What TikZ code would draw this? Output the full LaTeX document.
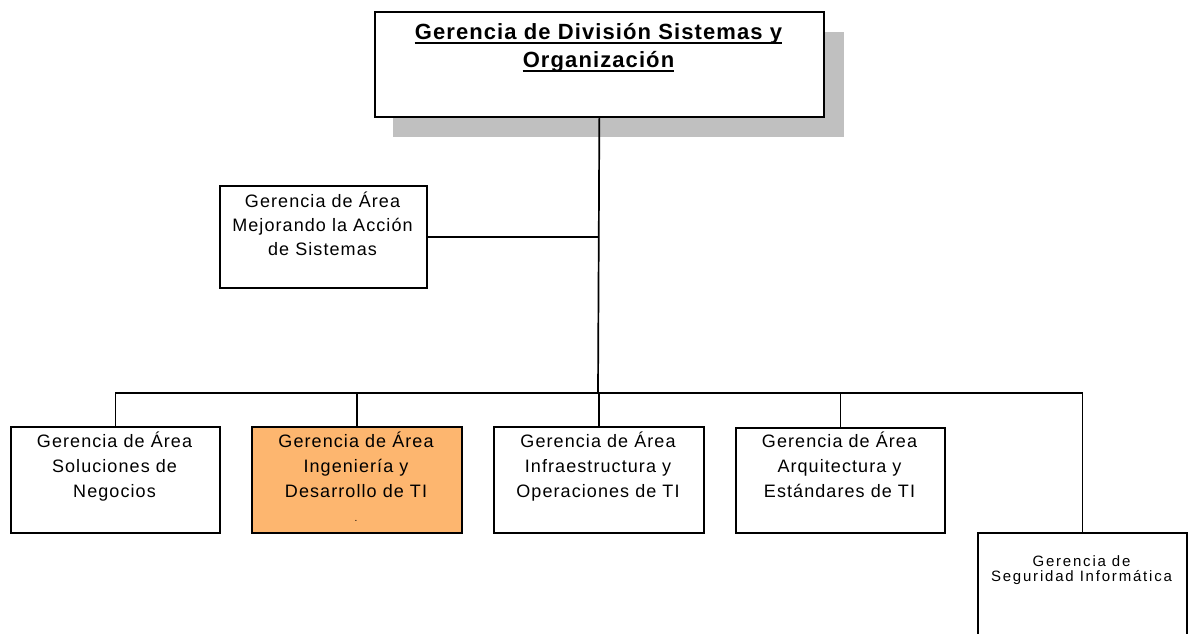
\documentclass[tikz,border=0pt]{standalone}
\usepackage{fontspec}
\setmainfont{Liberation Sans}
\newfontfamily\bxfont[LetterSpace=6]{Liberation Sans}
\newfontfamily\sxfont[LetterSpace=12]{Liberation Sans}
\newfontfamily\txfont[LetterSpace=5]{Liberation Sans Bold}
\definecolor{orangefill}{HTML}{FDB66F}
\definecolor{shadowgray}{HTML}{C0C0C0}
\begin{document}
\begin{tikzpicture}[x=1pt,y=-1pt,
  box/.style={draw, line width=1.7pt, inner sep=0pt, anchor=north west, fill=white},
  conn/.style={line width=1.7pt},
  lbl/.style={anchor=base, inner sep=0pt, font=\bxfont\fontsize{18}{20}\selectfont},
  slbl/.style={anchor=base, inner sep=0pt, font=\sxfont\fontsize{15}{16}\selectfont},
  tlbl/.style={anchor=base, inner sep=0pt, font=\txfont\fontsize{22}{24}\selectfont}]
\useasboundingbox (0,0) rectangle (1192,633);
\fill[white] (0,0) rectangle (1192,633);
\begin{scope}
\clip (0,0) rectangle (1192,633);
% shadow of top box
\fill[shadowgray] (393,32) rectangle (844,137);
% boxes
\node[box, minimum width=449pt, minimum height=105pt] (top) at (374,11) {};
\node[box, minimum width=207pt, minimum height=102pt] (mid) at (219,185) {};
\node[box, minimum width=209pt, minimum height=106pt] (b1) at (10,426) {};
\node[box, minimum width=210pt, minimum height=106pt, fill=orangefill] (b2) at (251,426) {};
\node[box, minimum width=210pt, minimum height=106pt] (b3) at (493,426) {};
\node[box, minimum width=209pt, minimum height=105pt] (b4) at (735,427) {};
\node[box, minimum width=209pt, minimum height=140pt] (b5) at (977,532) {};
% connectors
\coordinate (bus) at (598,393);
\draw[conn] (top.south) -- (bus);
\draw[conn] (mid.east) -- (mid.east -| bus);
\draw[conn] (b1.north) |- (bus) -| (b5.north);
\draw[conn] (b2.north) -- (b2.north |- bus);
\draw[conn] (b3.north) -- (b3.north |- bus);
\draw[conn] (b4.north) -- (b4.north |- bus);
% title
\node[tlbl] (t1) at (598.5,39) {Gerencia de División Sistemas y};
\node[tlbl] (t2) at (598.5,67) {Organización};
\draw[line width=1.5pt] ([yshift=-4pt]t1.base west) -- ([yshift=-4pt]t1.base east);
\draw[line width=1.5pt] ([yshift=-4pt]t2.base west) -- ([yshift=-4pt]t2.base east);
% middle box
\foreach \t [count=\i] in {Gerencia de Área, Mejorando la Acción, de Sistemas}
  \node[lbl] (m-\i) at (322.5,{207+24*(\i-1)}) {\t};
% bottom boxes
\foreach \t [count=\i] in {Gerencia de Área, Soluciones de, Negocios}
  \node[lbl] (l1-\i) at (114.5,{447+25*(\i-1)}) {\t};
\foreach \t [count=\i] in {Gerencia de Área, Ingeniería y, Desarrollo de TI}
  \node[lbl] (l2-\i) at (356,{447+25*(\i-1)}) {\t};
\node[anchor=base, inner sep=0pt, font=\fontsize{10}{10}\selectfont] (l2-dot) at (356,521) {.};
\foreach \t [count=\i] in {Gerencia de Área, Infraestructura y, Operaciones de TI}
  \node[lbl] (l3-\i) at (598,{447+25*(\i-1)}) {\t};
\foreach \t [count=\i] in {Gerencia de Área, Arquitectura y, Estándares de TI}
  \node[lbl] (l4-\i) at (839.5,{447+25*(\i-1)}) {\t};
\node[slbl] (l5-1) at (1081.5,566) {Gerencia de};
\node[slbl] (l5-2) at (1081.5,581) {Seguridad Informática};
\end{scope}
\end{tikzpicture}
\end{document}
